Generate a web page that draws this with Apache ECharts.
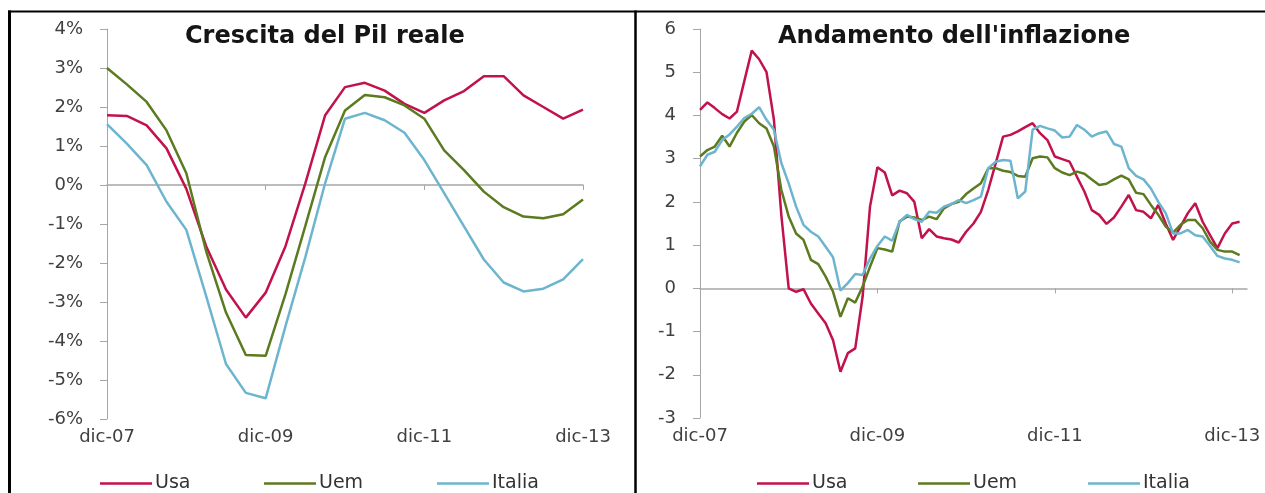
<!DOCTYPE html>
<html>
<head>
<meta charset="utf-8">
<script src="https://cdn.jsdelivr.net/npm/echarts@6/dist/echarts.min.js"></script>
<style>
html,body{margin:0;padding:0;background:#fff;}
#c{width:1265px;height:493px;}
</style>
</head>
<body>
<div id="c"></div>
<script>
// ---- Data ----
const qCats = ['dic-07','mar-08','giu-08','set-08','dic-08','mar-09','giu-09','set-09','dic-09','mar-10','giu-10','set-10','dic-10','mar-11','giu-11','set-11','dic-11','mar-12','giu-12','set-12','dic-12','mar-13','giu-13','set-13','dic-13'];
const usaPil = [1.79, 1.77, 1.53, 0.94, -0.10, -1.57, -2.68, -3.40, -2.76, -1.57, 0.04, 1.79, 2.51, 2.62, 2.42, 2.08, 1.85, 2.17, 2.41, 2.79, 2.79, 2.30, 2.00, 1.70, 1.93];
const uemPil = [3.00, 2.58, 2.13, 1.40, 0.30, -1.70, -3.27, -4.36, -4.38, -2.80, -1.05, 0.72, 1.91, 2.31, 2.25, 2.04, 1.70, 0.89, 0.38, -0.17, -0.57, -0.81, -0.85, -0.75, -0.37];
const itaPil = [1.56, 1.06, 0.51, -0.43, -1.15, -2.85, -4.59, -5.33, -5.47, -3.62, -1.85, 0.05, 1.70, 1.85, 1.66, 1.34, 0.64, -0.21, -1.06, -1.91, -2.50, -2.73, -2.66, -2.42, -1.90];

const mCats = ['dic-07',
 'gen-08','feb-08','mar-08','apr-08','mag-08','giu-08','lug-08','ago-08','set-08','ott-08','nov-08','dic-08',
 'gen-09','feb-09','mar-09','apr-09','mag-09','giu-09','lug-09','ago-09','set-09','ott-09','nov-09','dic-09',
 'gen-10','feb-10','mar-10','apr-10','mag-10','giu-10','lug-10','ago-10','set-10','ott-10','nov-10','dic-10',
 'gen-11','feb-11','mar-11','apr-11','mag-11','giu-11','lug-11','ago-11','set-11','ott-11','nov-11','dic-11',
 'gen-12','feb-12','mar-12','apr-12','mag-12','giu-12','lug-12','ago-12','set-12','ott-12','nov-12','dic-12',
 'gen-13','feb-13','mar-13','apr-13','mag-13','giu-13','lug-13','ago-13','set-13','ott-13','nov-13','dic-13',
 'gen-14','feb-14'];
const usaInf = [4.13, 4.30, 4.17, 4.03, 3.93, 4.09, 4.80, 5.50, 5.30, 5.00, 3.90, 1.70, 0.00,
 -0.08, -0.02, -0.35, -0.58, -0.81, -1.20, -1.93, -1.50, -1.39, -0.19, 1.89, 2.80,
 2.68, 2.15, 2.26, 2.20, 2.00, 1.16, 1.37, 1.20, 1.16, 1.13, 1.06, 1.31,
 1.50, 1.77, 2.28, 2.89, 3.51, 3.55, 3.63, 3.73, 3.82, 3.59, 3.43, 3.05,
 2.99, 2.93, 2.58, 2.24, 1.81, 1.70, 1.49, 1.64, 1.89, 2.16, 1.81, 1.77,
 1.62, 1.93, 1.50, 1.12, 1.43, 1.74, 1.97, 1.54, 1.23, 0.93, 1.27, 1.50,
 1.54];
const uemInf = [3.05, 3.20, 3.28, 3.53, 3.28, 3.60, 3.86, 4.01, 3.82, 3.70, 3.28, 2.28, 1.66,
 1.27, 1.12, 0.66, 0.56, 0.27, -0.08, -0.66, -0.23, -0.33, 0.04, 0.50, 0.93,
 0.90, 0.85, 1.55, 1.66, 1.64, 1.58, 1.66, 1.60, 1.85, 1.95, 2.00, 2.18,
 2.31, 2.43, 2.78, 2.78, 2.72, 2.69, 2.60, 2.58, 3.01, 3.05, 3.03, 2.78,
 2.68, 2.62, 2.70, 2.65, 2.52, 2.39, 2.42, 2.52, 2.61, 2.52, 2.21, 2.18,
 1.93, 1.70, 1.43, 1.29, 1.47, 1.58, 1.58, 1.39, 1.08, 0.89, 0.85, 0.85,
 0.77];
const itaInf = [2.82, 3.09, 3.16, 3.43, 3.56, 3.74, 3.94, 4.04, 4.19, 3.90, 3.67, 2.90, 2.43,
 1.89, 1.47, 1.31, 1.20, 0.96, 0.72, -0.05, 0.12, 0.33, 0.31, 0.69, 0.98,
 1.20, 1.10, 1.54, 1.70, 1.60, 1.54, 1.77, 1.75, 1.89, 1.95, 2.04, 1.97,
 2.04, 2.12, 2.78, 2.93, 2.97, 2.95, 2.08, 2.24, 3.67, 3.76, 3.70, 3.65,
 3.49, 3.51, 3.78, 3.67, 3.51, 3.59, 3.63, 3.34, 3.28, 2.78, 2.60, 2.52,
 2.31, 2.00, 1.74, 1.27, 1.27, 1.35, 1.23, 1.20, 0.98, 0.75, 0.69, 0.66,
 0.60];

const seriesNames = ['Usa', 'Uem', 'Italia'];
const titles = ['Crescita del Pil reale', "Andamento dell'inflazione"];

// ---- Style ----
const COLORS = {Usa: '#C2124B', Uem: '#5C7A1F', Italia: '#6DB5CF'};
const FONT = 'DejaVu Sans';
const AXIS_GRAY = '#a6a6a6';
const LABEL_GRAY = '#404040';

function lineSeries(name, data, xi, yi) {
  return {
    name: name, type: 'line', data: data, xAxisIndex: xi, yAxisIndex: yi,
    symbol: 'none', smooth: false, animation: false,
    lineStyle: {color: COLORS[name], width: 2.5},
    itemStyle: {color: COLORS[name]}
  };
}
function zeroAxis(grid, cats, every) {
  return {
    gridIndex: grid, type: 'category', data: cats, boundaryGap: false, position: 'bottom',
    axisLine: {show: true, onZero: true, lineStyle: {color: AXIS_GRAY, width: 1.5}},
    axisTick: {show: true, interval: every, length: 5, lineStyle: {color: AXIS_GRAY, width: 1}},
    axisLabel: {show: false}, splitLine: {show: false}
  };
}
function labelAxis(grid, cats, every) {
  return {
    gridIndex: grid, type: 'category', data: cats, boundaryGap: false, position: 'bottom',
    axisLine: {show: false, onZero: false}, axisTick: {show: false},
    axisLabel: {show: true, interval: every, margin: 9, fontSize: 18, fontFamily: FONT, color: LABEL_GRAY},
    splitLine: {show: false}
  };
}
function valueAxis(grid, min, max, fmt) {
  return {
    gridIndex: grid, type: 'value', min: min, max: max, interval: 1,
    axisLine: {show: true, onZero: false, lineStyle: {color: AXIS_GRAY, width: 1}},
    axisTick: {show: true, length: 7, lineStyle: {color: AXIS_GRAY}},
    axisLabel: {formatter: fmt, margin: 24, fontSize: 18, fontFamily: FONT, color: LABEL_GRAY},
    splitLine: {show: false}
  };
}
function legendItem(name, left) {
  return {
    data: [name], left: left, top: 474, padding: 0, itemWidth: 52, itemHeight: 14, itemGap: 0,
    selectedMode: false, icon: 'path://M0,6 L52,6 L52,8.6 L0,8.6 Z',
    itemStyle: {color: COLORS[name]},
    textStyle: {fontSize: 19, fontFamily: FONT, color: '#333', padding: [0, 0, 0, -2]}
  };
}

const chart = echarts.init(document.getElementById('c'), null, {renderer: 'canvas'});
chart.setOption({
  animation: false,
  backgroundColor: '#fff',
  title: [
    {text: titles[0], left: 185, top: 25, padding: 0,
     textStyle: {fontSize: 24, fontWeight: 'bold', fontFamily: FONT, color: '#151515'}},
    {text: titles[1], left: 778, top: 25, padding: 0,
     textStyle: {fontSize: 24, fontWeight: 'bold', fontFamily: FONT, color: '#151515'}}
  ],
  grid: [
    {left: 107, top: 29, width: 476, height: 390},
    {left: 700, top: 29, width: 547, height: 389}
  ],
  xAxis: [
    zeroAxis(0, qCats, 7), labelAxis(0, qCats, 7),
    zeroAxis(1, mCats, 23), labelAxis(1, mCats, 23)
  ],
  yAxis: [
    valueAxis(0, -6, 4, '{value}%'),
    valueAxis(1, -3, 6, '{value}')
  ],
  legend: [
    legendItem('Usa', 100), legendItem('Uem', 264), legendItem('Italia', 437),
    legendItem('Usa', 757), legendItem('Uem', 918), legendItem('Italia', 1088)
  ],
  series: [
    lineSeries('Usa', usaPil, 0, 0),
    lineSeries('Uem', uemPil, 0, 0),
    lineSeries('Italia', itaPil, 0, 0),
    lineSeries('Usa', usaInf, 2, 1),
    lineSeries('Uem', uemInf, 2, 1),
    lineSeries('Italia', itaInf, 2, 1)
  ],
  graphic: [
    {type: 'line', shape: {x1: 8, y1: 11.5, x2: 1265, y2: 11.5}, style: {stroke: '#000', lineWidth: 2}, silent: true},
    {type: 'line', shape: {x1: 9.5, y1: 10.5, x2: 9.5, y2: 493}, style: {stroke: '#000', lineWidth: 3}, silent: true},
    {type: 'line', shape: {x1: 635.5, y1: 10.5, x2: 635.5, y2: 493}, style: {stroke: '#000', lineWidth: 2.5}, silent: true}
  ]
});
</script>
</body>
</html>
